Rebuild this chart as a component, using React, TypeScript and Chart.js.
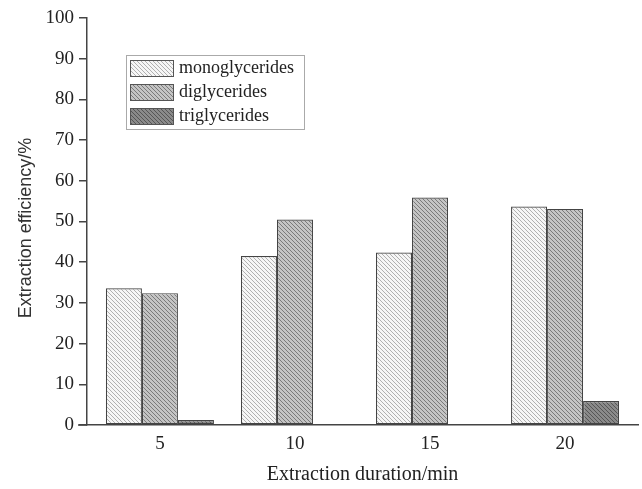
import React, { useEffect, useRef } from "react";
import { Chart, registerables } from "chart.js";

Chart.register(...registerables);

const durations = [5, 10, 15, 20];
const monoglycerides = [33.6, 41.5, 42.4, 53.7];
const diglycerides = [32.4, 50.5, 55.9, 53.1];
const triglycerides: (number | null)[] = [1.2, null, null, 5.9];
const yTicks = [0, 10, 20, 30, 40, 50, 60, 70, 80, 90, 100];
const seriesLabels = ["monoglycerides", "diglycerides", "triglycerides"];
const xTitle = "Extraction duration/min";
const yTitle = "Extraction efficiency/%";

const FONT = "'Liberation Serif', 'Times New Roman', serif";
const SANS = "'Liberation Sans', Arial, sans-serif";

function makePattern(bg: string, line: string): CanvasPattern | string {
  const s = 4;
  const c = document.createElement("canvas");
  c.width = s;
  c.height = s;
  const ctx = c.getContext("2d");
  if (!ctx) return bg;
  ctx.fillStyle = bg;
  ctx.fillRect(0, 0, s, s);
  ctx.strokeStyle = line;
  ctx.lineWidth = 1;
  ctx.beginPath();
  for (const k of [-s, 0, s]) {
    ctx.moveTo(k, 0);
    ctx.lineTo(k + s, s);
  }
  ctx.stroke();
  const p = ctx.createPattern(c, "repeat");
  return p || bg;
}

export default function App() {
  const ref = useRef<HTMLCanvasElement | null>(null);

  useEffect(() => {
    document.body.style.margin = "0";
    const canvas = ref.current;
    if (!canvas) return;

    const pats = [
      makePattern("#f6f6f6", "#b0b0b0"),
      makePattern("#c4c4c4", "#7a7a7a"),
      makePattern("#8a8a8a", "#555555"),
    ];
    const values = [monoglycerides, diglycerides, triglycerides];

    const extrasPlugin = {
      id: "extras",
      afterDraw(chart: any) {
        const { ctx, chartArea } = chart;
        ctx.save();
        // x axis extension to the left of the y axis
        ctx.strokeStyle = "#444";
        ctx.lineWidth = 1.5;
        ctx.beginPath();
        ctx.moveTo(78, chartArea.bottom);
        ctx.lineTo(chartArea.left, chartArea.bottom);
        ctx.stroke();

        // y axis title
        ctx.save();
        ctx.translate(26, 228);
        ctx.rotate(-Math.PI / 2);
        ctx.font = `18px ${SANS}`;
        ctx.fillStyle = "#333";
        ctx.textAlign = "center";
        ctx.textBaseline = "middle";
        ctx.fillText(yTitle, 0, 0);
        ctx.restore();

        // legend
        const bx = 126, by = 55, bw = 178, bh = 74;
        ctx.strokeStyle = "#aaa";
        ctx.lineWidth = 1;
        ctx.strokeRect(bx + 0.5, by + 0.5, bw, bh);
        ctx.font = `18px ${FONT}`;
        ctx.textBaseline = "middle";
        ctx.textAlign = "left";
        chart.data.datasets.forEach((ds: any, i: number) => {
          const sy = 60 + i * 24;
          ctx.fillStyle = ds.backgroundColor;
          ctx.fillRect(130, sy, 43, 16);
          ctx.strokeStyle = "#555";
          ctx.lineWidth = 1;
          ctx.strokeRect(130.5, sy + 0.5, 43, 16);
          ctx.fillStyle = "#222";
          ctx.fillText(ds.label, 179, sy + 8);
        });
        ctx.restore();
      },
    };

    const chart = new Chart(canvas, {
      type: "bar",
      data: {
        datasets: seriesLabels.map((label, i) => ({
          label,
          data: durations.map((d, j) => ({ x: d, y: values[i][j] as any })),
          backgroundColor: pats[i] as any,
          borderColor: "#444",
          borderWidth: 1.2,
          borderSkipped: false,
          categoryPercentage: 0.8,
          barPercentage: 1,
        })),
      },
      options: {
        animation: false,
        responsive: false,
        maintainAspectRatio: false,
        layout: { padding: { left: 0, right: 4, top: 18, bottom: 0 } },
        plugins: {
          legend: { display: false },
          tooltip: { enabled: false },
        },
        scales: {
          x: {
            type: "linear",
            offset: false,
            min: 2.3,
            max: 22.7,
            afterBuildTicks(scale: any) {
              scale.ticks = durations.map((v) => ({ value: v }));
            },
            afterFit(scale: any) {
              scale.height = 64;
            },
            grid: { display: false, drawTicks: false },
            border: { display: true, color: "#444", width: 1.5 },
            ticks: {
              color: "#222",
              font: { family: FONT, size: 19 },
              padding: 8,
              maxRotation: 0,
              autoSkip: false,
            },
            title: {
              display: true,
              text: xTitle,
              color: "#222",
              font: { family: FONT, size: 20 },
              padding: { top: 10, bottom: 2 },
            },
          },
          y: {
            min: 0,
            max: 100,
            afterBuildTicks(scale: any) {
              scale.ticks = yTicks.map((v) => ({ value: v }));
            },
            afterFit(scale: any) {
              scale.width = 87;
            },
            grid: {
              display: true,
              drawOnChartArea: false,
              drawTicks: true,
              tickLength: 8,
              color: "#444",
              lineWidth: 1.5,
            },
            border: { display: true, color: "#444", width: 1.5 },
            ticks: {
              color: "#222",
              font: { family: FONT, size: 19 },
              padding: 5,
            },
            title: { display: false },
          },
        },
      },
      plugins: [extrasPlugin],
    });

    return () => chart.destroy();
  }, []);

  return (
    <div style={{ width: 642, height: 489, background: "#fff" }}>
      <canvas ref={ref} width={642} height={489} style={{ display: "block" }} />
    </div>
  );
}
